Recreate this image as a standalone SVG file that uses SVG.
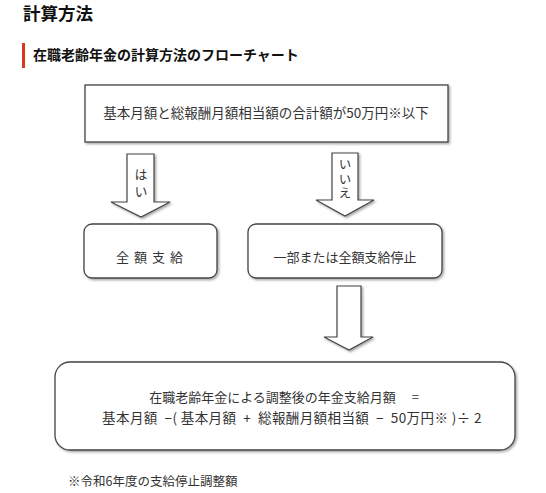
<svg xmlns="http://www.w3.org/2000/svg" width="546" height="493" viewBox="0 0 546 493">
<defs>
<filter id="sh" x="-20%" y="-20%" width="150%" height="150%">
<feDropShadow dx="1.5" dy="1.5" stdDeviation="1.2" flood-color="#000" flood-opacity="0.35"/>
</filter>
</defs>
<style>
text{font-family:"Noto Sans CJK JP","Noto Sans",sans-serif;fill:#333;}
.h1{font-size:17.5px;font-weight:bold;fill:#111;}
.h2{font-size:14px;font-weight:bold;fill:#111;}
.t{font-size:13px;text-anchor:middle;}
.v{font-size:13px;text-anchor:middle;writing-mode:vertical-rl;}
.box{fill:#fff;stroke:#444;stroke-width:1.3;filter:url(#sh);}
.arr{fill:#fff;stroke:#444;stroke-width:1.2;stroke-linejoin:miter;filter:url(#sh);}
.note{font-size:12.5px;fill:#333;}
</style>
<rect width="546" height="493" fill="#fff"/>
<text class="h1" x="23" y="20">計算方法</text>
<rect x="22" y="43" width="3" height="25" fill="#d9381e"/>
<text class="h2" x="33" y="60">在職老齢年金の計算方法のフローチャート</text>

<g id="condition">
<rect class="box" x="85" y="85" width="363" height="57"/>
<text class="t" x="266" y="118" style="font-size:13.5px">基本月額と総報酬月額相当額の合計額が50万円※以下</text>
</g>

<g id="connectors">
<g id="arrow-yes">
<path class="arr" d="M127,154 H154 V202 H170 L141,217 L111,202 H127 Z"/>
<text class="v" x="141" y="185" style="letter-spacing:4px">はい</text>
</g>
<g id="arrow-no">
<path class="arr" d="M332,153 H358 V200 H374 L345,216 L316,200 H332 Z"/>
<text class="v" x="345" y="180" style="font-size:12.5px;letter-spacing:2px">いいえ</text>
</g>
<g id="arrow-down">
<path class="arr" d="M337,286 H361 V337 H373 L349,350 L324,337 H337 Z"/>
</g>
</g>

<g id="full">
<rect class="box" x="84" y="224" width="133" height="54" rx="8"/>
<text class="t" x="152" y="262" style="letter-spacing:5px">全額支給</text>
</g>

<g id="partial">
<rect class="box" x="248" y="224" width="194" height="54" rx="8"/>
<text class="t" x="345" y="262">一部または全額支給停止</text>
</g>

<g id="formula">
<rect class="box" x="55" y="362" width="460" height="88" rx="15"/>
<text class="t" x="284" y="402" style="white-space:pre">在職老齢年金による調整後の年金支給月額　 =</text>
<text class="t" x="292" y="423" style="white-space:pre;font-size:13.5px;letter-spacing:0.4px">基本月額  −( 基本月額  +  総報酬月額相当額  −  50万円※ )÷ 2</text>
</g>

<text class="note" x="68" y="486">※令和6年度の支給停止調整額</text>
</svg>
